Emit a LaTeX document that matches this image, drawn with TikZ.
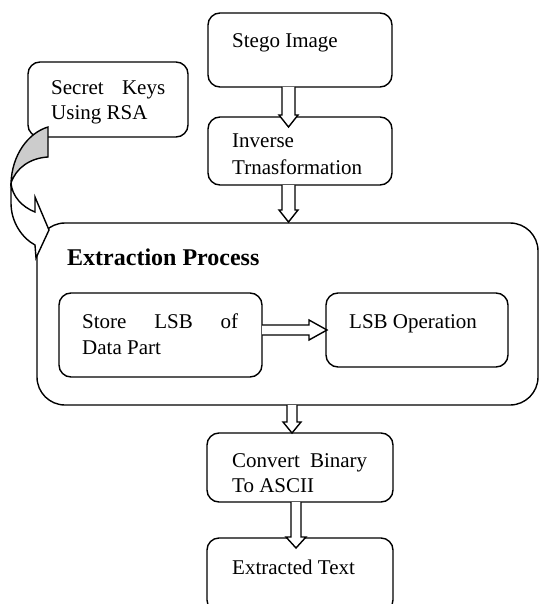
\documentclass[tikz,border=0pt]{standalone}
\usepackage{fontspec}
\setmainfont{Liberation Serif}
\begin{document}
\begin{tikzpicture}[x=1pt,y=-1pt,
  box/.style={draw, line width=1.4pt, rounded corners=12pt, inner sep=0pt},
  txt/.style={font=\fontsize{21}{26}\selectfont, inner sep=0pt, anchor=base west},
  blk/.style={draw, fill=white, line width=1.4pt, line join=miter}]
\clip (0,0) rectangle (539,604);
% boxes
\node[box, minimum width=184pt, minimum height=74pt] (stego) at (300,50) {};
\node[box, minimum width=184pt, minimum height=68pt] (inverse) at (300,151) {};
\node[box, minimum width=160pt, minimum height=75pt] (keys) at (108,99.5) {};
\node[box, rounded corners=28pt, minimum width=501pt, minimum height=182pt] (extract) at (287.5,314) {};
\node[box, minimum width=203pt, minimum height=84pt] (store) at (160.5,335) {};
\node[box, minimum width=182pt, minimum height=74pt] (lsbop) at (417,330) {};
\node[box, minimum width=186pt, minimum height=69pt] (convert) at (300,467.5) {};
\node[box, minimum width=186pt, minimum height=74pt] (extracted) at (300,575) {};
% texts
\node[txt] (tkeys1) at (51,95) {\hbox to 114pt{Secret\hfill Keys}};
\node[txt] (tkeys2) at (51,120) {Using RSA};
\node[txt] (tstego) at (232,48) {Stego Image};
\node[txt] (tinv1) at (232,148) {Inverse};
\node[txt] (tinv2) at (232,174) {Trnasformation};
\node[txt, font=\bfseries\fontsize{24}{28}\selectfont] (tproc) at (67,265) {Extraction Process};
\node[txt] (tstore1) at (82,328) {\hbox to 156pt{Store\hfill LSB\hfill of}};
\node[txt] (tstore2) at (82,354) {Data Part};
\node[txt] (tlsb) at (349,328) {LSB Operation};
\node[txt] (tconv1) at (232,467) {\hbox to 135pt{Convert\hfill Binary}};
\node[txt] (tconv2) at (232,492) {To ASCII};
\node[txt] (textr) at (232,574) {Extracted Text};
% block arrows (down)
\draw[blk] (282,87) -- (282,115) -- (279,115) -- (288.5,127) -- (298,115) -- (295,115) -- (295,87);
\draw[blk] (282,185) -- (282,210) -- (279,210) -- (288.5,222) -- (298,210) -- (295,210) -- (295,185);
\draw[blk] (287,405) -- (287,422) -- (283,422) -- (292,433) -- (301,422) -- (297,422) -- (297,405);
\draw[blk] (291,502) -- (291,537) -- (286,537) -- (296,548) -- (306,537) -- (301,537) -- (301,502);
% block arrow (right)
\draw[blk] (262,325) -- (309,325) -- (309,320) -- (327,330) -- (309,340) -- (309,335) -- (262,335);
% curved arrow from keys to extraction box
\draw[line width=1.4pt, fill=gray!40, line join=miter]
  (48,127) .. controls (28,133) and (12,155) .. (11,183)
  .. controls (16,168) and (30,158) .. (48,157) -- cycle;
\draw[line width=1.4pt, fill=white, line join=miter]
  (11,183) -- (11,203) .. controls (11,222) and (22,238) .. (35,245)
  -- (36,258) -- (49,230) -- (35,197) -- (35,212)
  .. controls (22,207) and (12,196) .. (11,183) -- cycle;
\end{tikzpicture}
\end{document}
